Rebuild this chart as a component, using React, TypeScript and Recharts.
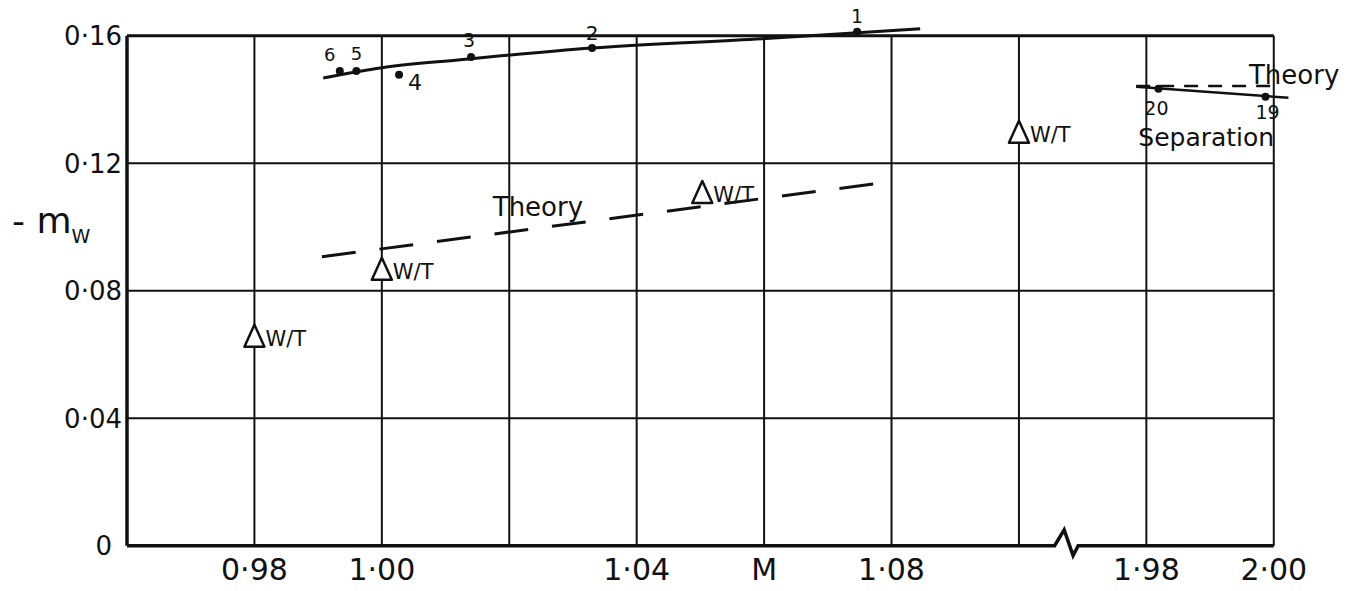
import { ComposedChart, Line, Scatter, XAxis, YAxis, ReferenceLine } from "recharts";

document.body.style.margin = "0";

// numbered flight points (M, -m_w)
const flightLabels = ["6", "5", "4", "3", "2", "1"];
const flightM = [0.9934, 0.996, 1.0027, 1.014, 1.033, 1.0746];
const flightMw = [0.149, 0.149, 0.1478, 0.1534, 0.1562, 0.1613];

// points after the axis break
const sepLabels = ["20", "19"];
const sepM = [1.9819, 1.9987];
const sepMw = [0.1434, 0.1409];

// faired curves through the flight points
const fairM = [0.9908, 1.0, 1.0123, 1.033, 1.0597, 1.0845];
const fairMw = [0.1468, 0.15, 0.1525, 0.1562, 0.1591, 0.1622];
const sepFairM = [1.9784, 2.0023];
const sepFairMw = [0.144, 0.1406];

// theory (dashed)
const theoryM = [0.9906, 1.0785];
const theoryMw = [0.0907, 0.1139];
const sepTheoryM = [1.9784, 2.0006];
const sepTheoryMw = [0.1443, 0.1443];

// wind tunnel values
const tunnelM = [0.98, 1.0, 1.0503, 1.1];
const tunnelMw = [0.0656, 0.0866, 0.1107, 0.1296];

// text notes
const noteText = ["Theory", "Theory", "Separation"];
const noteM = [1.0245, 2.0032, 1.9894];
const noteMw = [0.1063, 0.1477, 0.1282];

// axes
const gridM = [0.96, 0.98, 1.0, 1.02, 1.04, 1.06, 1.08, 1.1, 1.98, 2.0];
const xTickM = [0.98, 1.0, 1.04, 1.06, 1.08, 1.98, 2.0];
const xTickLabels = ["0·98", "1·00", "1·04", "M", "1·08", "1·98", "2·00"];
const yTicks = [0, 0.04, 0.08, 0.12, 0.16];
const yTickLabels = ["0", "0·04", "0·08", "0·12", "0·16"];

// bottom axis with the break mark between 1.10 and 1.98
const baseM = [0.96, 1.1056, 1.1071, 1.1085, 1.1093, 2.0];
const baseMw = [0, 0, 0.005, -0.0031, 0, 0];

const INK = "#111";
const FONT = "'DejaVu Sans', sans-serif";

// broken M scale: 0.96..1.10 then 1.98..2.00, one grid square per 0.02
function toU(m: number) {
  return m < 1.5 ? (m - 0.96) / 0.02 : 8 + (m - 1.98) / 0.02;
}

const pts = (ms: number[], vs: number[]) => ms.map((m, i) => ({ u: toU(m), v: vs[i] }));

const flightData = flightM.map((m, i) => ({ u: toU(m), v: flightMw[i], label: flightLabels[i] }));
const sepData = sepM.map((m, i) => ({ u: toU(m), v: sepMw[i], label: sepLabels[i] }));
const tunnelData = pts(tunnelM, tunnelMw);
const noteData = noteM.map((m, i) => ({ u: toU(m), v: noteMw[i], text: noteText[i] }));

const labelStyle: Record<string, { dx: number; dy: number; size: number }> = {
  "6": { dx: -10, dy: -16, size: 18 },
  "5": { dx: 0, dy: -17, size: 18 },
  "4": { dx: 16, dy: 8, size: 22 },
  "3": { dx: -2, dy: -17, size: 19 },
  "2": { dx: 0, dy: -15, size: 20 },
  "1": { dx: 0, dy: -16, size: 19 },
  "20": { dx: -2, dy: 19, size: 19 },
  "19": { dx: 2, dy: 15, size: 19 },
};

const noteSize: Record<string, number> = { Theory: 26, Separation: 25 };

function PointMark(props: any) {
  const { cx, cy, payload } = props;
  const s = labelStyle[payload.label];
  return (
    <g>
      <circle cx={cx} cy={cy} r={4} fill={INK} />
      <text
        x={cx + s.dx}
        y={cy + s.dy}
        fontSize={s.size}
        fontFamily={FONT}
        fill={INK}
        textAnchor="middle"
        dominantBaseline="central"
      >
        {payload.label}
      </text>
    </g>
  );
}

function TunnelMark(props: any) {
  const { cx, cy } = props;
  return (
    <g>
      <polygon
        points={`${cx},${cy - 12} ${cx + 10},${cy + 10} ${cx - 10},${cy + 10}`}
        fill="#fff"
        stroke={INK}
        strokeWidth={2.5}
        strokeLinejoin="round"
      />
      <text x={cx + 11} y={cy + 9} fontSize={21} fontFamily={FONT} fill={INK}>
        W/T
      </text>
    </g>
  );
}

function NoteMark(props: any) {
  const { cx, cy, payload } = props;
  return (
    <text
      x={cx}
      y={cy}
      fontSize={noteSize[payload.text]}
      fontFamily={FONT}
      fill={INK}
      textAnchor="middle"
      dominantBaseline="central"
    >
      {payload.text}
    </text>
  );
}

function XTick(props: any) {
  const { x, y, payload } = props;
  const i = xTickM.findIndex((m) => Math.abs(toU(m) - payload.value) < 1e-6);
  return (
    <text x={x} y={y} dy={-4} textAnchor="middle" fontSize={30} fontFamily={FONT} fill={INK}>
      {xTickLabels[i]}
    </text>
  );
}

function YTick(props: any) {
  const { x, y, payload } = props;
  const i = yTicks.indexOf(payload.value);
  return (
    <text
      x={payload.value === 0 ? x - 10 : x}
      y={y}
      dy="0.36em"
      textAnchor="end"
      fontSize={26}
      fontFamily={FONT}
      fill={INK}
    >
      {yTickLabels[i]}
    </text>
  );
}

export default function App() {
  return (
    <div style={{ background: "#fff", width: 1361, height: 591 }}>
      <ComposedChart width={1361} height={591} margin={{ top: 4, right: 49, bottom: 0, left: 0 }}>
        <XAxis
          type="number"
          dataKey="u"
          domain={[0, 9.3]}
          ticks={xTickM.map(toU)}
          interval={0}
          tick={<XTick />}
          tickSize={0}
          tickMargin={0}
          axisLine={false}
          height={7}
        />
        <YAxis
          type="number"
          dataKey="v"
          domain={[-0.012, 0.17]}
          ticks={yTicks}
          interval={0}
          tick={<YTick />}
          tickSize={0}
          tickMargin={5}
          axisLine={false}
          width={127}
          label={{
            content: () => (
              <text x={12} y={233} fontSize={36} fontFamily={FONT} fill={INK}>
                - m
                <tspan fontSize={19} dy={10}>
                  W
                </tspan>
              </text>
            ),
          }}
        />

        {/* grid squares */}
        {gridM.map((m, i) => (
          <ReferenceLine
            key={`gx${i}`}
            segment={[
              { x: toU(m), y: 0 },
              { x: toU(m), y: 0.16 },
            ]}
            stroke={INK}
            strokeWidth={i === 0 ? 3.5 : 2}
          />
        ))}
        {yTicks.slice(1).map((v, i) => (
          <ReferenceLine
            key={`gy${i}`}
            segment={[
              { x: 0, y: v },
              { x: 9, y: v },
            ]}
            stroke={INK}
            strokeWidth={v === 0.16 ? 3 : 2}
          />
        ))}
        <Line
          data={pts(baseM, baseMw)}
          dataKey="v"
          type="linear"
          stroke={INK}
          strokeWidth={3.5}
          dot={false}
          isAnimationActive={false}
        />

        <Line
          data={pts(theoryM, theoryMw)}
          dataKey="v"
          type="linear"
          stroke={INK}
          strokeWidth={3}
          strokeDasharray="34 24"
          dot={false}
          isAnimationActive={false}
        />
        <Line
          data={pts(sepTheoryM, sepTheoryMw)}
          dataKey="v"
          type="linear"
          stroke={INK}
          strokeWidth={2.5}
          strokeDasharray="14 10"
          dot={false}
          isAnimationActive={false}
        />
        <Line
          data={pts(fairM, fairMw)}
          dataKey="v"
          type="monotone"
          stroke={INK}
          strokeWidth={3}
          dot={false}
          isAnimationActive={false}
        />
        <Line
          data={pts(sepFairM, sepFairMw)}
          dataKey="v"
          type="linear"
          stroke={INK}
          strokeWidth={2.5}
          dot={false}
          isAnimationActive={false}
        />

        <Scatter data={flightData} shape={<PointMark />} isAnimationActive={false} />
        <Scatter data={sepData} shape={<PointMark />} isAnimationActive={false} />
        <Scatter data={tunnelData} shape={<TunnelMark />} isAnimationActive={false} />
        <Scatter data={noteData} shape={<NoteMark />} isAnimationActive={false} />
      </ComposedChart>
    </div>
  );
}
